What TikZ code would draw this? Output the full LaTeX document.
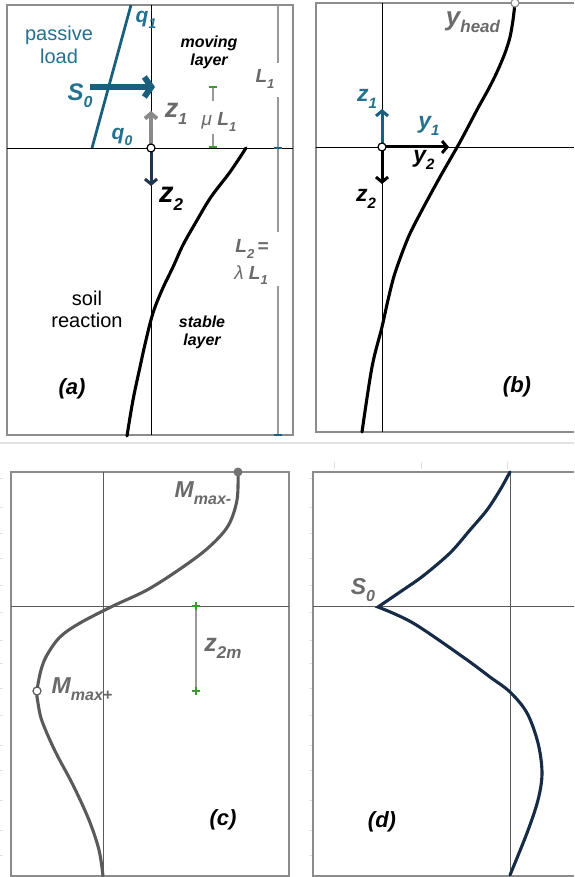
\documentclass[tikz,border=0pt]{standalone}
\usepackage{fontspec}
\setmainfont{Liberation Sans}
\usetikzlibrary{arrows.meta}
\definecolor{tealtx}{HTML}{23708F}
\definecolor{tealdk}{HTML}{1B5F7F}
\definecolor{gtxt}{HTML}{6A6A6A}
\definecolor{garrow}{HTML}{8A8A8A}
\definecolor{navy}{HTML}{1E3551}
\definecolor{framec}{HTML}{8C8C8C}
\definecolor{grn}{HTML}{3C9A2E}
\definecolor{ccurve}{HTML}{5A5A5A}
\definecolor{dcurve}{HTML}{162B45}
\definecolor{faint}{HTML}{E2E2E2}
\newcommand{\fs}[1]{\fontsize{#1}{#1}\selectfont}
\newcommand{\lsub}[2]{\raisebox{-0.28em}{\fs{#1}#2}}
\begin{document}
\begin{tikzpicture}[x=1pt,y=-1pt,
  every node/.style={inner sep=0pt,outer sep=0pt},
  frm/.style={draw=framec,line width=1.8pt},
  axisk/.style={draw=black,line width=0.8pt},
  axisg/.style={draw=ccurve,line width=1pt},
  curvek/.style={draw=black,line width=3.1pt,line cap=round},
  open/.style={circle,draw=black,fill=white,line width=1.2pt,minimum size=8pt},
  barb/.style={-{Straight Barb[length=5pt,width=12pt]},line width=3pt},
  faintmk/.style={draw=faint,line width=1pt}]
\useasboundingbox (0,0) rectangle (574,877);

% separator and faint ticks
\draw[draw=faint,line width=1.5pt] (0,443) -- (574,443);
\foreach \x in {334,421,507} \draw[faintmk] (\x,462) -- (\x,469);
\foreach \y in {478,507,533,558,585,612,640,663,688,715,745,770,800,830,855}
  {\draw[faintmk] (0,\y) -- (3,\y); \draw[faintmk] (309,\y) -- (312,\y);}

% ================= panel (a)
\draw[frm] (7,5) rectangle (293,435);
\draw[axisk] (7,148) -- (293,148);
\draw[axisk] (151,5) -- (151,435);
% dimension line L1 / L2
\draw[draw=gray!80,line width=1.2pt] (278,5) -- (278,63) (278,97) -- (278,232) (278,286) -- (278,435);
\draw[draw=tealdk,line width=2pt] (274,148) -- (282,148) (274,435) -- (282,435);
% mu L1
\draw[draw=gray!80,line width=1.2pt] (213,87) -- (213,101) (213,134) -- (213,147);
\draw[draw=grn,line width=1.6pt] (209,87) -- (217,87) (209,147) -- (217,147);
% passive load line
\draw[draw=tealdk,line width=2.8pt] (131,5) -- (92,148);
% soil curve
\draw[curvek] plot[smooth,tension=0.6] coordinates {(246,148) (230,172) (211,197) (196,222) (183,245) (173,267) (162,290) (153,313) (146,340) (140,367) (133,400) (127,436)};
% arrows
\coordinate (Oa) at (151,148);
\coordinate (S0s) at (90,87);
\coordinate (S0e) at (155,87);
\coordinate (Z1a) at (151,111);
\coordinate (Z2a) at (151,186);
\draw[draw=tealdk,line width=6pt,-{Straight Barb[length=7pt,width=20pt]}] (S0s) -- (S0e);
\draw[draw=garrow,barb,line width=4pt] ([yshift=-4pt]Oa) -- (Z1a);
\draw[draw=navy,barb] ([yshift=4pt]Oa) -- (Z2a);
\node[open] (oa) at (Oa) {};
% labels
\node[text=tealtx,align=center,font=\fs{20}] (pl) at (59,45) {passive\\[3pt]load};
\node[text=tealtx,font=\fs{21}\bfseries\itshape] (q1) at (146,20) {q\lsub{14}{1}};
\node[text=tealtx,font=\fs{24}\bfseries\itshape] (s0) at (80,96) {S\lsub{16}{0}};
\node[text=tealtx,font=\fs{21}\bfseries\itshape] (q0) at (122,137) {q\lsub{14}{0}};
\node[align=center,font=\fs{16}\bfseries\itshape] (mv) at (209,52) {moving\\[2pt]layer};
\node[text=gtxt,font=\fs{19}\bfseries\itshape] (l1) at (265,79) {L\lsub{13}{1}};
\node[text=gtxt,font=\fs{27}\bfseries\itshape] (z1a) at (176,114) {z\lsub{16}{1}};
\node[text=gtxt,font=\fs{19}] (mul) at (219,122) {\itshape μ \bfseries L\lsub{13}{1}};
\node[font=\fs{29}\bfseries\itshape] (z2a) at (171,199) {z\lsub{17}{2}};
\node[text=gtxt,font=\fs{19}\bfseries\itshape] (l2a) at (252,249) {L\lsub{13}{2}\,=};
\node[text=gtxt,font=\fs{19}\bfseries\itshape] (l2b) at (251,275) {{\mdseries λ} L\lsub{13}{1}};
\node[align=center,font=\fs{16}\bfseries\itshape] (st) at (202,332) {stable\\[2pt]layer};
\node[align=center,font=\fs{20}] (sr) at (87,309) {soil\\[2pt]reaction};
\node[font=\fs{22}\bfseries\itshape] (la) at (72,389) {(a)};

% ================= panel (b)
\draw[draw=framec,line width=1.8pt] (574,3) -- (316,3) -- (316,432) -- (574,432);
\draw[axisk] (316,147) -- (574,147);
\draw[axisk] (382,3) -- (382,432);
\draw[curvek] plot[smooth,tension=0.55] coordinates {(515,3) (513,20) (510,37) (505,53) (497,72) (488,90) (478,108) (460,142) (440,177) (421,212) (408,238) (395,273) (388,300) (382,327) (372,367) (362,432)};
\coordinate (Ob) at (382,147);
\coordinate (Z1b) at (382,109);
\coordinate (Yb) at (449,147);
\coordinate (Z2b) at (382,184);
\draw[draw=tealdk,barb] (Ob) -- (Z1b);
\draw[draw=black,barb] (Ob) -- (Yb);
\draw[draw=black,barb] (Ob) -- (Z2b);
\node[open] (ob) at (Ob) {};
\node[circle,draw=framec,fill=white,line width=1.2pt,minimum size=8pt] (yh) at (515,3) {};
\node[text=gtxt,font=\fs{26}\bfseries\itshape] (yhl) at (473,22) {y\lsub{17}{head}};
\node[text=tealtx,font=\fs{23}\bfseries\itshape] (z1b) at (367,99) {z\lsub{15}{1}};
\node[text=tealtx,font=\fs{23}\bfseries\itshape] (y1b) at (429,126) {y\lsub{15}{1}};
\node[font=\fs{23}\bfseries\itshape] (y2b) at (424,160) {y\lsub{15}{2}};
\node[font=\fs{23}\bfseries\itshape] (z2b) at (366,199) {z\lsub{15}{2}};
\node[font=\fs{22}\bfseries\itshape] (lb) at (517,387) {(b)};

% ================= panel (c)
\draw[frm] (11,472) rectangle (289,876);
\draw[axisg] (11,606) -- (289,606);
\draw[axisg] (103,472) -- (103,876);
\draw[draw=ccurve,line width=3.1pt,line cap=round] plot[smooth,tension=0.55] coordinates {(238,472) (237,500) (228,526) (208,548) (180,569) (147,590) (113,606) (80,623) (60,637) (47,655) (41,670) (37,691) (38,703) (42,721) (55,751) (73,785) (89,820) (99,850) (103,876)};
\draw[draw=gray!80,line width=1.2pt] (196,606) -- (196,691);
\draw[draw=grn,line width=1.4pt] (192,606) -- (200,606) (196,602) -- (196,610) (192,691) -- (200,691) (196,687) -- (196,695);
\node[circle,fill=ccurve!85,minimum size=9pt] (mm) at (238,472) {};
\node[circle,draw=ccurve,fill=white,line width=1.2pt,minimum size=8pt] (mp) at (37,691) {};
\node[text=gtxt,font=\fs{23}\bfseries\itshape] (mml) at (203,493) {M\lsub{16}{max-}};
\node[text=gtxt,font=\fs{23}\bfseries\itshape] (mpl) at (82,689) {M\lsub{16}{max+}};
\node[text=gtxt,font=\fs{25}\bfseries\itshape] (z2m) at (223,648) {z\lsub{17}{2m}};
\node[font=\fs{22}\bfseries\itshape] (lc) at (223,820) {(c)};

% ================= panel (d)
\draw[draw=framec,line width=1.8pt] (574,472) -- (313,472) -- (313,876) -- (574,876);
\draw[axisg] (313,606) -- (574,606);
\draw[axisg] (510,472) -- (510,876);
\draw[draw=dcurve,line width=3.1pt,line cap=round,line join=miter] plot[smooth,tension=0.5] coordinates {(510,472) (500,490) (487,510) (470,530) (450,553) (423,576) (400,592) (378,607)}
  -- plot[smooth,tension=0.55] coordinates {(378,607) (413,623) (463,657) (490,677) (510,692) (527,713) (538,743) (542,773) (538,800) (527,833) (510,875)};
\node[text=gtxt,font=\fs{23}\bfseries\itshape] (s0d) at (363,590) {S\lsub{16}{0}};
\node[font=\fs{22}\bfseries\itshape] (ld) at (382,822) {(d)};
\end{tikzpicture}
\end{document}
